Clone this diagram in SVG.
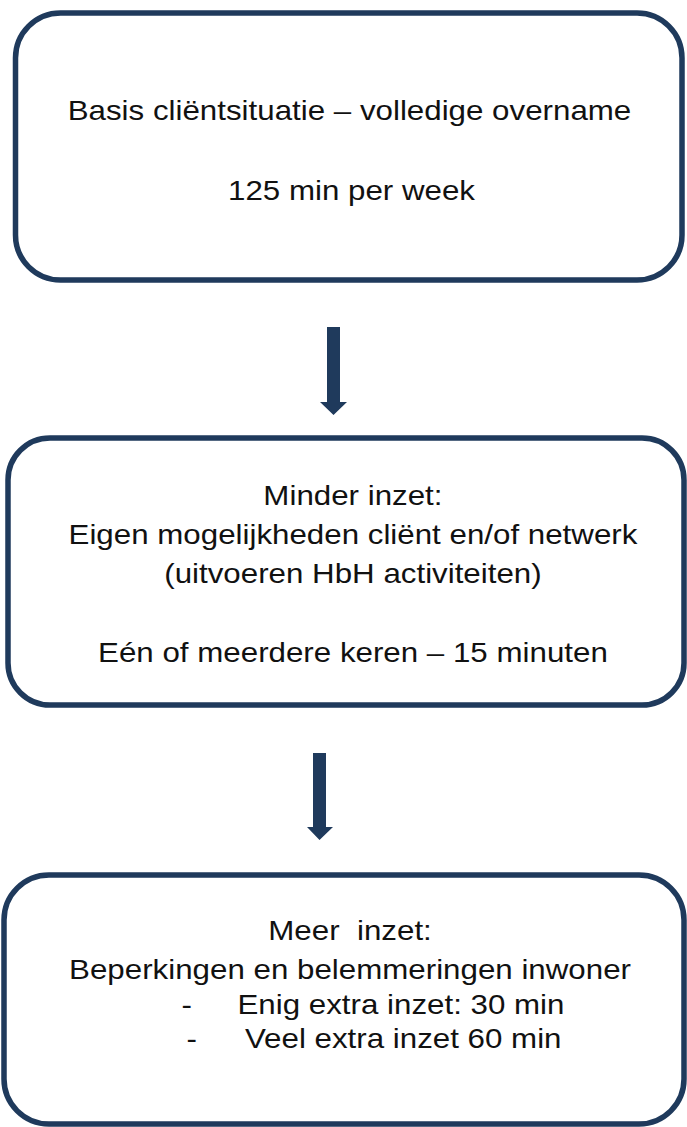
<svg xmlns="http://www.w3.org/2000/svg" width="687" height="1127" viewBox="0 0 687 1127">
<style>
.box{fill:#fff;stroke:#1F3A5C;stroke-width:5.5}
.arr{fill:#1F3A5C}
text{font-family:"Liberation Sans",Arial,sans-serif;font-size:28px;fill:#111}
.c{text-anchor:middle}
</style>
<rect width="687" height="1127" fill="#fff"/>
<g id="node1">
<rect class="box" x="15.5" y="13" width="666.5" height="267" rx="45"/>
<g transform="scale(1.118,1)">
<text class="c" x="312.6" y="120">Basis cliëntsituatie – volledige overname</text>
<text class="c" x="314.4" y="200">125 min per week</text>
</g>
</g>
<g id="node2">
<rect class="box" x="8" y="438" width="676" height="267" rx="42"/>
<g transform="scale(1.118,1)">
<text class="c" x="315.7" y="505">Minder inzet:</text>
<text class="c" x="315.7" y="544">Eigen mogelijkheden cliënt en/of netwerk</text>
<text class="c" x="315.7" y="583">(uitvoeren HbH activiteiten)</text>
<text class="c" x="315.7" y="662">Eén of meerdere keren – 15 minuten</text>
</g>
</g>
<g id="node3">
<rect class="box" x="4" y="875" width="680" height="249" rx="45"/>
<g transform="scale(1.118,1)">
<text class="c" x="313.1" y="940" xml:space="preserve">Meer  inzet:</text>
<text class="c" x="313.1" y="979">Beperkingen en belemmeringen inwoner</text>
<text x="162.3" y="1014">-</text>
<text x="212.4" y="1014">Enig extra inzet: 30 min</text>
<text x="166.8" y="1048">-</text>
<text x="219.1" y="1048">Veel extra inzet 60 min</text>
</g>
</g>
<g id="connectors">
<polygon class="arr" points="327,327 340,327 340,402 347,402 333.5,415 320,402 327,402"/>
<polygon class="arr" points="313,753 326,753 326,827 333,827 319.5,840 307,827 313,827"/>
</g>
</svg>
